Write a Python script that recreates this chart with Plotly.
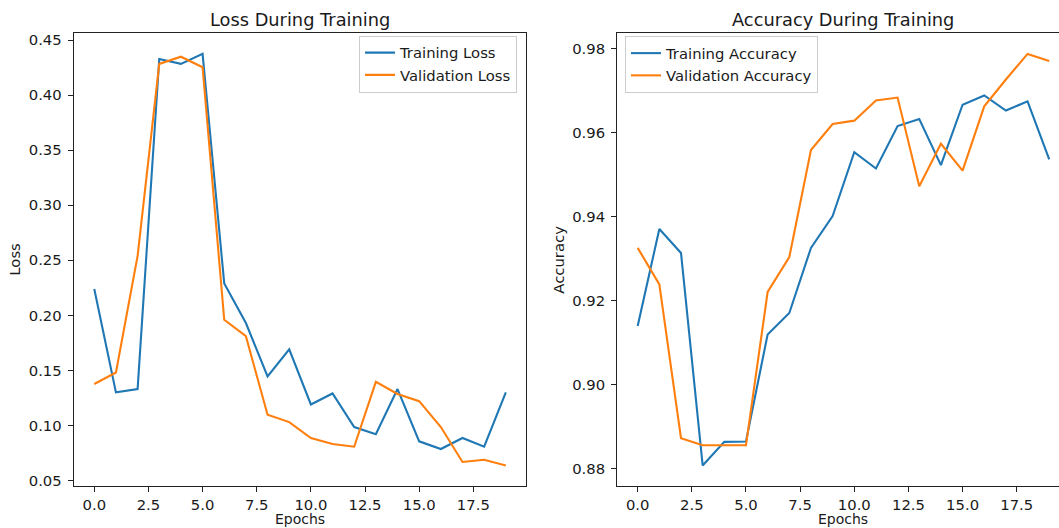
import plotly.graph_objects as go

# ---------------- data ----------------
epochs = list(range(20))
train_loss = [0.224, 0.130, 0.133, 0.433, 0.4285, 0.4376, 0.229, 0.193, 0.1445, 0.169,
              0.119, 0.129, 0.0985, 0.092, 0.133, 0.0855, 0.0785, 0.0885, 0.0806, 0.130]
val_loss = [0.1376, 0.148, 0.254, 0.4285, 0.435, 0.4255, 0.196, 0.181, 0.1097, 0.103,
            0.0885, 0.083, 0.0806, 0.1395, 0.1285, 0.122, 0.0985, 0.0667, 0.0688, 0.0636]
train_acc = [0.9140, 0.9371, 0.9314, 0.8808, 0.8864, 0.8865, 0.9120, 0.9171, 0.9326, 0.9402,
             0.9554, 0.9515, 0.9616, 0.9633, 0.9523, 0.9667, 0.9689, 0.9653, 0.9675, 0.9537]
val_acc = [0.9326, 0.9239, 0.8873, 0.8856, 0.8856, 0.8856, 0.9221, 0.9304, 0.9559, 0.9621,
           0.9629, 0.9677, 0.9684, 0.9473, 0.9574, 0.9510, 0.9663, 0.9727, 0.9788, 0.9771]

x_tick_vals = [0, 2.5, 5, 7.5, 10, 12.5, 15, 17.5]
x_tick_text = ["0.0", "2.5", "5.0", "7.5", "10.0", "12.5", "15.0", "17.5"]
loss_tick_vals = [0.05, 0.10, 0.15, 0.20, 0.25, 0.30, 0.35, 0.40, 0.45]
acc_tick_vals = [0.88, 0.90, 0.92, 0.94, 0.96, 0.98]

titles = ["Loss During Training", "Accuracy During Training"]
y_titles = ["Loss", "Accuracy"]
x_title = "Epochs"

# ---------------- layout helpers ----------------
W, H = 1059, 528
BLUE, ORANGE = "#1f77b4", "#ff7f0e"
FONT = "DejaVu Sans"
FS = 14.8        # tick / label / legend size
FS_TITLE = 17.8  # title size
TXT = "#1a1a1a"


def fx(p):
    return p / W


def fy(p):
    return 1 - p / H


def padded(*series):
    vals = [v for s in series for v in s]
    lo, hi = min(vals), max(vals)
    m = 0.05 * (hi - lo)
    return [lo - m, hi + m]


x_full = padded(epochs)
# axes box pixel positions
L1, R1 = 73.7, 526.4
L2, R2 = 617.1, 1069.8  # right panel runs past the picture edge
TOP, BOT = 33.3, 486.0
vis = (W - L2) / (R2 - L2)
x_right_range = [x_full[0], x_full[0] + (x_full[1] - x_full[0]) * vis]

fig = go.Figure()
fig.add_trace(go.Scatter(x=epochs, y=train_loss, mode="lines", name="Training Loss",
                         line=dict(color=BLUE, width=2.1), xaxis="x", yaxis="y", legend="legend"))
fig.add_trace(go.Scatter(x=epochs, y=val_loss, mode="lines", name="Validation Loss",
                         line=dict(color=ORANGE, width=2.1), xaxis="x", yaxis="y", legend="legend"))
fig.add_trace(go.Scatter(x=epochs, y=train_acc, mode="lines", name="Training Accuracy",
                         line=dict(color=BLUE, width=2.1), xaxis="x2", yaxis="y2", legend="legend2"))
fig.add_trace(go.Scatter(x=epochs, y=val_acc, mode="lines", name="Validation Accuracy",
                         line=dict(color=ORANGE, width=2.1), xaxis="x2", yaxis="y2", legend="legend2"))

common = dict(showgrid=False, zeroline=False, showline=True, linecolor="#222222", linewidth=1.1,
              ticks="outside", ticklen=5, tickwidth=1.1, tickcolor="#222222",
              tickfont=dict(family=FONT, size=FS, color=TXT), automargin=False,
              fixedrange=True)

legend_common = dict(font=dict(family=FONT, size=FS, color=TXT),
                     bgcolor="rgba(255,255,255,0.8)", bordercolor="#cccccc", borderwidth=1,
                     tracegroupgap=0)

fig.update_layout(
    width=W, height=H,
    template="none",
    paper_bgcolor="white", plot_bgcolor="white",
    margin=dict(l=0, r=0, t=0, b=0),
    font=dict(family=FONT, size=FS, color=TXT),
    showlegend=True,
    xaxis=dict(domain=[fx(L1), fx(R1)], range=x_full, anchor="y", mirror=True,
               tickvals=x_tick_vals, ticktext=x_tick_text, ticklabelstandoff=0, **common),
    yaxis=dict(domain=[fy(BOT), fy(TOP)], range=padded(train_loss, val_loss), anchor="x",
               mirror=True, tickvals=loss_tick_vals, tickformat=".2f",
               ticklabelstandoff=3, **common),
    xaxis2=dict(domain=[fx(L2), 1.0], range=x_right_range, anchor="y2", mirror=True,
                tickvals=x_tick_vals, ticktext=x_tick_text, ticklabelstandoff=0, **common),
    yaxis2=dict(domain=[fy(BOT), fy(TOP)], range=padded(train_acc, val_acc), anchor="x2",
                mirror=False, tickvals=acc_tick_vals, tickformat=".2f",
                ticklabelstandoff=3, **common),
    legend=dict(x=fx(517), y=fy(35.5), xanchor="right", yanchor="top", **legend_common),
    legend2=dict(x=fx(625), y=fy(36), xanchor="left", yanchor="top", **legend_common),
)

annotations = []
centers = [(L1 + R1) / 2, (L2 + R2) / 2]
for i in range(2):
    annotations.append(dict(text=titles[i], x=fx(centers[i]), y=fy(20), xref="paper",
                            yref="paper", xanchor="center", yanchor="middle", showarrow=False,
                            font=dict(family=FONT, size=FS_TITLE, color=TXT)))
    annotations.append(dict(text=x_title, x=fx(centers[i]), y=0, xref="paper",
                            yref="paper", xanchor="center", yanchor="bottom", showarrow=False,
                            borderpad=0, font=dict(family=FONT, size=14, color=TXT)))
y_label_x = [15, 559]
for i in range(2):
    annotations.append(dict(text=y_titles[i], x=fx(y_label_x[i]), y=fy((TOP + BOT) / 2),
                            xref="paper", yref="paper", xanchor="center", yanchor="middle",
                            textangle=-90, showarrow=False,
                            font=dict(family=FONT, size=FS, color=TXT)))
fig.update_layout(annotations=annotations)

fig.write_html(
    "out.html",
    config={"displayModeBar": False},
    post_script="document.body.style.margin='0';document.body.style.overflow='hidden';",
)
